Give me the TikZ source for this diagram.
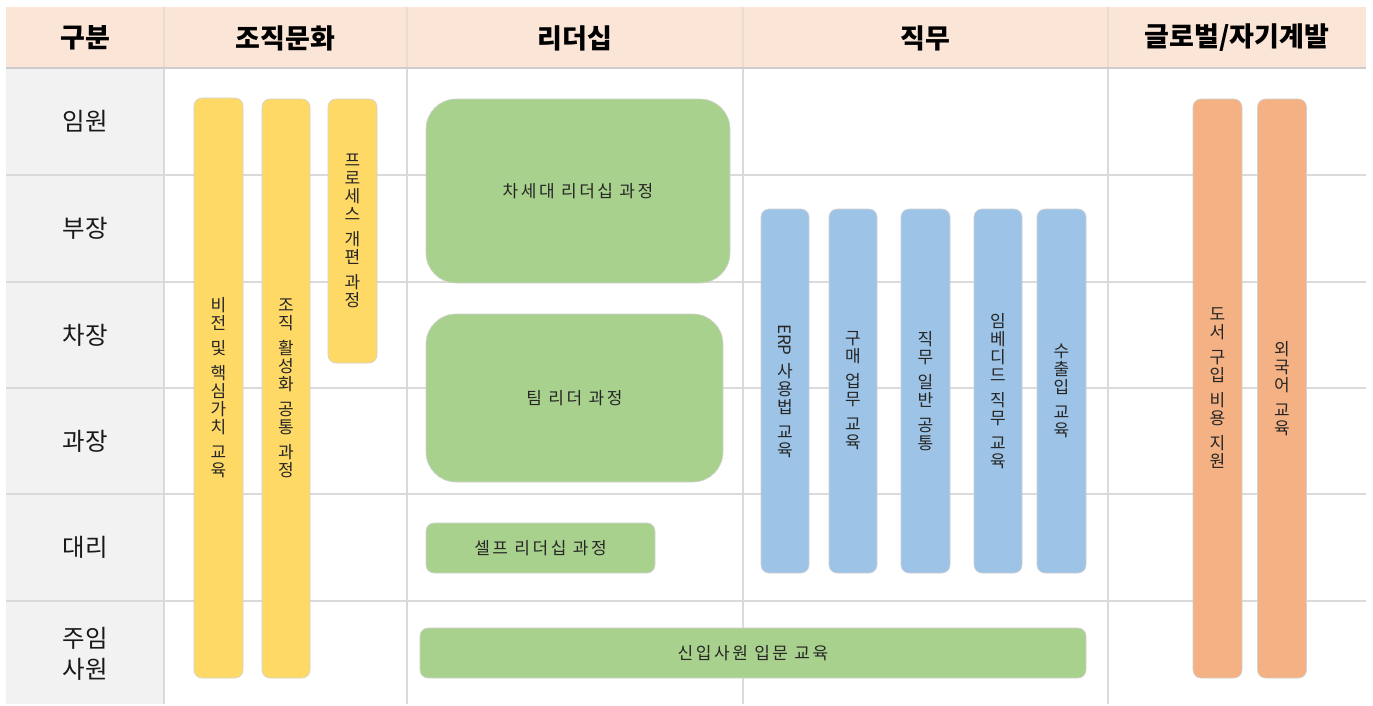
\documentclass[tikz,border=0pt]{standalone}
\usepackage{fontspec}
\setmainfont{Noto Sans CJK KR}
\newfontfamily\boxfont{Noto Sans CJK KR}[LetterSpace=15]
\definecolor{hdr}{HTML}{FBE5D6}
\definecolor{col1}{HTML}{F2F2F2}
\definecolor{gridc}{HTML}{DADADA}
\definecolor{hdrline}{HTML}{EDDBCF}
\definecolor{ylw}{HTML}{FFD966}
\definecolor{grn}{HTML}{A9D18E}
\definecolor{blu}{HTML}{9DC3E6}
\definecolor{org}{HTML}{F4B183}
\tikzset{
  gridline/.style={draw=gridc, line width=1.5pt},
  hdrsep/.style={draw=hdrline, line width=1.2pt},
  hdrtext/.style={font=\fontsize{27}{30}\selectfont\bfseries, text=black},
  rowtext/.style={font=\fontsize{24.5}{31}\selectfont, text=black!90, align=center},
  course/.style={rectangle, rounded corners=8pt, draw=black!18, line width=0.6pt, inner sep=0pt, align=center, text=black!85},
  vcourse/.style={course, font=\fontsize{17}{18}\selectfont},
  hcourse/.style={course, font=\boxfont\fontsize{17}{19}\selectfont},
  bigcourse/.style={hcourse, rounded corners=30pt},
}
\begin{document}
\begin{tikzpicture}[x=1pt,y=-1pt]
\useasboundingbox (0,0) rectangle (1373,705);
\fill[white] (0,0) rectangle (1373,705);
% header and first column fills
\fill[hdr] (6,7) rectangle (1366,68);
\fill[col1] (6,68) rectangle (164,704);
% grid lines
\foreach \yy in {175,282,388,494,601} \draw[gridline] (6,\yy) -- (1366,\yy);
\foreach \xx in {164,407,743,1108} {
  \draw[gridline] (\xx,68) -- (\xx,704);
  \draw[hdrsep] (\xx,7) -- (\xx,68);
}
\draw[draw=black!20, line width=2pt] (6,68) -- (1366,68);
% header texts
\node[hdrtext] (h0) at (85,38) {구분};
\node[hdrtext] (h1) at (285.5,38) {조직문화};
\node[hdrtext] (h2) at (575,38) {리더십};
\node[hdrtext] (h3) at (925.5,38) {직무};
\node[hdrtext] (h4) at (1237,38) {글로벌/자기계발};
% row labels
\node[rowtext] (r1) at (85,121.5) {임원};
\node[rowtext] (r2) at (85,228.5) {부장};
\node[rowtext] (r3) at (85,335) {차장};
\node[rowtext] (r4) at (85,441) {과장};
\node[rowtext] (r5) at (85,547.5) {대리};
\node[rowtext] (r6) at (85,654) {주임\\사원};
% organisational culture
\node[vcourse, fill=ylw, minimum width=49pt, minimum height=580pt] (y1) at (218.5,388)
  {비\\전\\[7pt]및\\[7pt]핵\\심\\가\\치\\[7pt]교\\육};
\node[vcourse, fill=ylw, minimum width=48pt, minimum height=579pt] (y2) at (286,388.5)
  {조\\직\\[7pt]활\\성\\화\\[7pt]공\\통\\[7pt]과\\정};
\node[vcourse, fill=ylw, minimum width=49pt, minimum height=264pt] (y3) at (352.5,231)
  {프\\로\\세\\스\\[7pt]개\\편\\[7pt]과\\정};
% leadership
\node[bigcourse, fill=grn, minimum width=304pt, minimum height=184pt] (g1) at (578,191) {차세대 리더십 과정};
\node[bigcourse, fill=grn, minimum width=297pt, minimum height=168pt] (g2) at (574.5,398) {팀 리더 과정};
\node[hcourse, fill=grn, minimum width=229pt, minimum height=50pt] (g3) at (540.5,548) {셀프 리더십 과정};
\node[hcourse, fill=grn, minimum width=666pt, minimum height=50pt] (g4) at (753,653) {신입사원 입문 교육};
% job
\node[vcourse, fill=blu, minimum width=48pt, minimum height=364pt] (b1) at (785,391)
  {\rotatebox[origin=c]{-90}{ERP}\\[7pt]사\\용\\법\\[7pt]교\\육};
\node[vcourse, fill=blu, minimum width=48pt, minimum height=364pt] (b2) at (853,391)
  {구\\매\\[7pt]업\\무\\[7pt]교\\육};
\node[vcourse, fill=blu, minimum width=49pt, minimum height=364pt] (b3) at (925.5,391)
  {직\\무\\[7pt]일\\반\\[7pt]공\\통};
\node[vcourse, fill=blu, minimum width=48pt, minimum height=364pt] (b4) at (998,391)
  {임\\베\\디\\드\\[7pt]직\\무\\[7pt]교\\육};
\node[vcourse, fill=blu, minimum width=49pt, minimum height=364pt] (b5) at (1061.5,391)
  {수\\출\\입\\[7pt]교\\육};
% global / self development
\node[vcourse, fill=org, minimum width=49pt, minimum height=579pt] (o1) at (1217.5,388.5)
  {도\\서\\[7pt]구\\입\\[7pt]비\\용\\[7pt]지\\원};
\node[vcourse, fill=org, minimum width=49pt, minimum height=579pt] (o2) at (1282,388.5)
  {외\\국\\어\\[7pt]교\\육};
\end{tikzpicture}
\end{document}
